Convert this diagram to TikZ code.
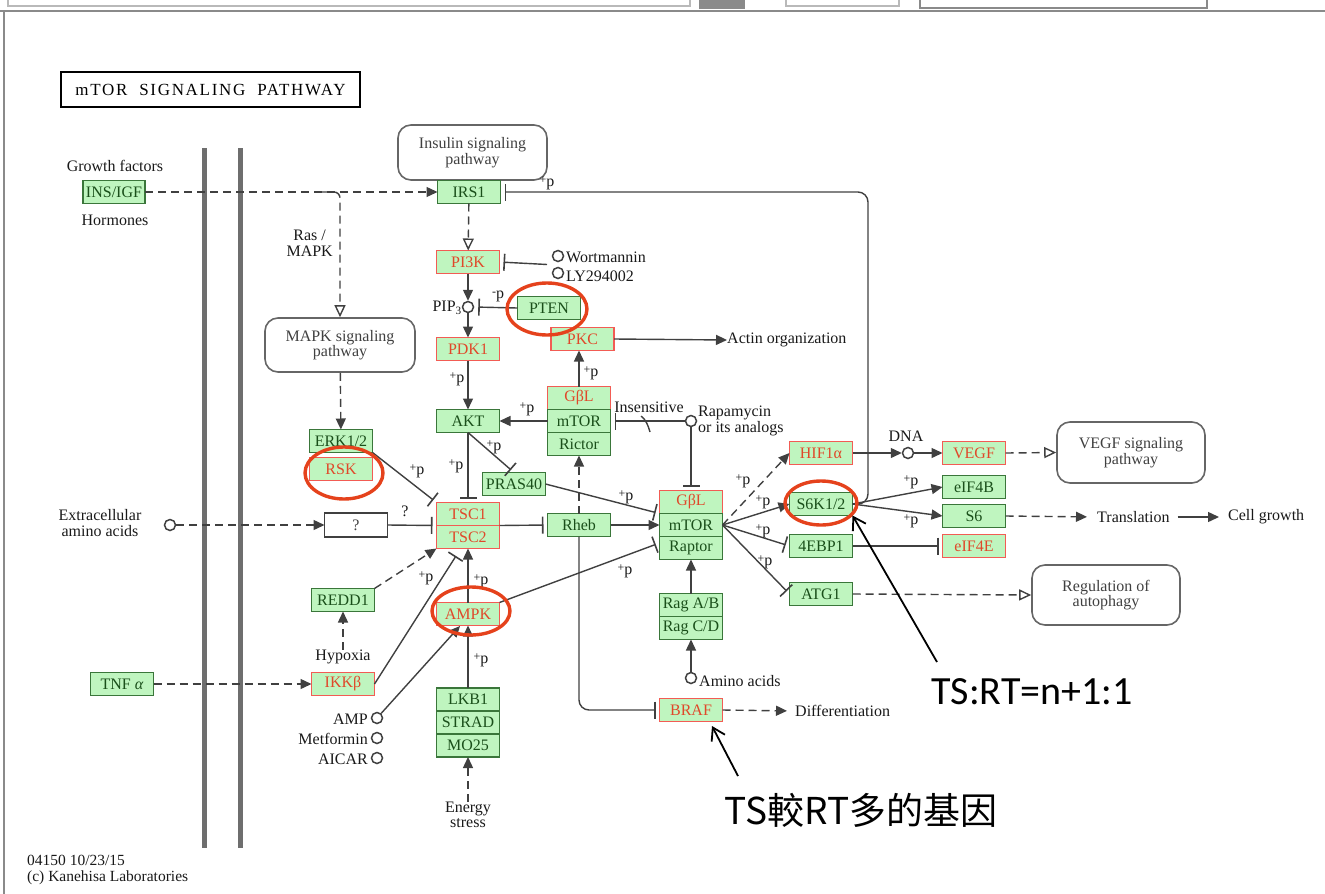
\documentclass[tikz,border=0pt]{standalone}
\usepackage{fontspec}
\setmainfont{Liberation Serif}
\newfontfamily\cjkfont{Noto Sans CJK TC}
\newfontfamily\notefont{Carlito}
\newfontfamily\titlefont[LetterSpace=10]{Liberation Serif}
\usepackage{tikz}
\usetikzlibrary{positioning, arrows.meta, shapes.geometric, calc}

\newcommand{\plusp}{{\raisebox{3pt}{\fontsize{12}{12}\selectfont+}p}}
\newcommand{\minusp}{{\raisebox{3pt}{\fontsize{12}{12}\selectfont-}p}}

\begin{document}
\begin{tikzpicture}[
    x=1pt, y=-1pt,
    font=\fontsize{16}{15.5}\selectfont,
    >={Triangle[length=11pt,width=10pt]},
]
% ── Colours ──
\definecolor{genefill}{HTML}{BFF5BF}
\definecolor{genedraw}{HTML}{3A763A}
\definecolor{genetext}{HTML}{1A4F1A}
\definecolor{hitdraw}{HTML}{F25C54}
\definecolor{hittext}{HTML}{E0482A}
\definecolor{ring}{HTML}{E5421C}
\definecolor{linec}{HTML}{404040}
\definecolor{membr}{HTML}{6E6E6E}
\definecolor{frame}{HTML}{8A8A8A}

% ── Styles ──
\tikzset{
    gene/.style={
        draw=genedraw, fill=genefill, text=genetext,
        line width=1.5pt, minimum width=63pt, minimum height=23pt,
        inner sep=0pt, outer sep=0pt,
    },
    hitgene/.style={gene, draw=hitdraw, text=hittext},
    unknown/.style={gene, draw=linec, fill=white, text=linec, minimum height=24pt},
    pathway/.style={
        draw=linec!80, line width=1.6pt, rounded corners=13pt,
        align=center, inner sep=0pt, text=linec,
    },
    cpd/.style={circle, draw=linec, line width=1.5pt, minimum size=11pt, inner sep=0pt, fill=white},
    lbl/.style={text=black!90, inner sep=0pt, align=center},
    link/.style={draw=linec, line width=1.4pt},
    act/.style={link, ->},
    inh/.style={link, -{Bar[width=17pt, line width=1.6pt]}, shorten >=4pt},
    indirect/.style={act, dash pattern=on 8pt off 5pt},
    outlink/.style={link, dash pattern=on 8pt off 5pt,
        -{Triangle[open, length=12pt, width=11pt, fill=white]}},
    hitring/.style={ellipse, draw=ring, line width=3.4pt, inner sep=0pt},
    note/.style={draw=black, line width=1.8pt, -{Straight Barb[length=12pt, width=15pt]}},
}

\useasboundingbox (0,0) rectangle (1325,894);

% ── Window frame ──
\draw[frame!60, line width=1.5pt] (8,0) |- (690,6) -- (690,0);
\fill[frame] (699,0) rectangle (745,9);
\draw[frame!60, line width=1.5pt] (786,0) |- (899,6) -- (899,0);
\draw[frame, line width=2pt] (920,0) |- (1207,8) -- (1207,0);
\draw[frame, line width=2pt] (0,11) -- (1325,11);
\draw[frame, line width=2.5pt] (4,11) -- (4,894);

% ── Membrane ──
\draw[membr, line width=5pt] (204,148) -- (204,848);
\draw[membr, line width=5pt] (240,148) -- (240,848);

% ── Title ──
\node[draw, line width=2.5pt, minimum width=299pt, minimum height=35pt,
      font=\titlefont\fontsize{17}{17}\selectfont] (title) at (210.5,89.5)
    {mTOR\ \ SIGNALING\ \ PATHWAY};

% ── Outside the cell ──
\node[lbl] (growth) at (115,166) {Growth factors};
\node[gene, minimum width=62pt] (ins) at (114,192) {INS/IGF};
\node[lbl] (horm) at (115,220) {Hormones};
\node[lbl] (eaatext) at (100,523) {Extracellular\\amino acids};
\node[cpd] (eaa) at (170,525) {};
\node[gene] (tnf) at (122,684) {TNF \textit{α}};

% ── Upstream column ──
\node[pathway, minimum width=149pt, minimum height=55pt] (insp) at (472.5,152.5) {Insulin signaling\\pathway};
\node[gene] (irs1) at (469,192) {IRS1};
\node[hitgene] (pi3k) at (468,262) {PI3K};
\node[cpd] (pip3) at (468,307) {};
\node[lbl, anchor=east] (pip3text) at (462,308) {PIP\textsubscript{3}};
\node[hitgene] (pdk1) at (468,349) {PDK1};
\node[gene] (akt) at (468,421) {AKT};
\node[hitgene] (tsc1) at (468,514) {TSC1};
\node[hitgene, below=0pt of tsc1] (tsc2) {TSC2};
\node[hitgene] (ampk) at (468,614) {AMPK};
\node[gene] (lkb) at (468,699.5) {LKB1};
\node[gene, below=0pt of lkb] (strad) {STRAD};
\node[gene, below=0pt of strad] (mo25) {MO25};
\node[lbl] (energy) at (468,815) {Energy\\stress};

\node[cpd] (wort) at (558,256) {};
\node[lbl, anchor=west] (worttext) at (566,257) {Wortmannin};
\node[cpd] (ly) at (558,273) {};
\node[lbl, anchor=west] (lytext) at (566,276) {LY294002};
\coordinate (drug) at (547,264.5);
\node[gene] (pten) at (549,308) {PTEN};
\node[hitgene] (pkc) at (582.5,339) {PKC};
\node[lbl, anchor=west] (actin) at (727,340) {Actin organization};

% ── mTORC2 ──
\node[hitgene] (gbl2) at (579,398) {GβL};
\node[gene, below=0pt of gbl2] (mtor2) {mTOR};
\node[gene, below=0pt of mtor2] (rictor) {Rictor};
\node[gene] (pras) at (514,484) {PRAS40};
\node[gene] (rheb) at (579,525) {Rheb};

% ── MAPK branch ──
\node[lbl, anchor=east] (ras) at (333,243) {Ras /\\MAPK};
\coordinate (rasfork) at (322,192);
\node[pathway, minimum width=150pt, minimum height=54pt] (mapk) at (340,345) {MAPK signaling\\pathway};
\node[gene] (erk) at (341,441) {ERK1/2};
\node[hitgene] (rsk) at (341,469) {RSK};
\node[unknown] (unk) at (356,525) {?};
\node[gene] (redd) at (343,600) {REDD1};
\node[lbl] (hypoxia) at (343,657) {Hypoxia};
\node[hitgene] (ikk) at (343,684) {IKKβ};
\coordinate (ikkbar) at (456,556);
\node[cpd] (amp) at (377,718) {};
\node[lbl, anchor=east] (amptext) at (368,719) {AMP};
\node[cpd] (metf) at (377,738) {};
\node[lbl, anchor=east] (metftext) at (368,739) {Metformin};
\node[cpd] (aicar) at (377,758) {};
\node[lbl, anchor=east] (aicartext) at (368,759) {AICAR};
\coordinate (ampin) at (460,626);

% ── mTORC1 ──
\node[hitgene] (gbl1) at (691,502) {GβL};
\node[gene, below=0pt of gbl1] (mtor1) {mTOR};
\node[gene, below=0pt of mtor1] (raptor) {Raptor};
\node[cpd] (rapa) at (691,421) {};
\node[lbl, anchor=west, align=left] (rapatext) at (698,421) {Rapamycin\\or its analogs};
\node[lbl] (insens) at (649,407) {Insensitive};
\node[gene] (raga) at (691,605) {Rag A/B};
\node[gene, below=0pt of raga] (ragc) {Rag C/D};
\node[cpd] (amino) at (691,678) {};
\node[lbl, anchor=west] (aminotext) at (699,681) {Amino acids};
\node[hitgene] (braf) at (691,710) {BRAF};
\node[lbl, anchor=west] (diff) at (795,711) {Differentiation};

% ── Downstream ──
\node[hitgene] (hif) at (821,453) {HIF1α};
\node[gene] (s6k) at (821,504) {S6K1/2};
\node[gene] (ebp) at (821,546) {4EBP1};
\node[gene] (atg) at (821,594) {ATG1};
\node[cpd] (dna) at (908,453) {};
\node[lbl] (dnatext) at (906,436) {DNA};
\node[hitgene] (vegf) at (974,453) {VEGF};
\node[gene] (eif4b) at (974,487) {eIF4B};
\node[gene] (s6) at (974,516) {S6};
\node[hitgene] (eif4e) at (974,546) {eIF4E};
\node[pathway, minimum width=148pt, minimum height=61pt] (vegfp) at (1131,452.5) {VEGF signaling\\pathway};
\node[pathway, minimum width=148pt, minimum height=60pt] (autoph) at (1106,595) {Regulation of\\autophagy};
\node[lbl, anchor=west] (trans) at (1097,517) {Translation};
\node[lbl, anchor=west] (cellg) at (1228,517) {Cell growth};
\coordinate (fb) at (868,192);

% ── Footer ──
\node[lbl, anchor=west, align=left, font=\fontsize{15.5}{16}\selectfont] (foot) at (27,870)
    {04150 10/23/15\\(c) Kanehisa Laboratories};

% ── Connectors: entry ──
\draw[indirect] (ins) -- (irs1);
\draw[outlink, rounded corners=6pt] (rasfork) -| (mapk.north);
\draw[indirect] (mapk) -- (erk);
\draw[indirect] (eaa) -- (unk);
\draw[indirect] (tnf) -- (ikk);
\draw[outlink] (irs1) -- (pi3k);

% ── Connectors: PI3K / AKT axis ──
\draw[act] (pi3k) -- (pip3);
\draw[act] (pip3) -- (pdk1);
\draw[inh] (drug) -- (pi3k.east);
\draw[inh] (pten.west) -- (pip3.east);
\node[lbl] at (498,296) {\minusp};
\draw[act] (pdk1) -- (akt);
\node[lbl] at (457,379) {\plusp};
\draw[act] (mtor2.west) -- (akt.east);
\node[lbl] at (527,409) {\plusp};
\draw[act] (gbl2.north) -- (gbl2.north |- pkc.south);
\node[lbl] at (591,373) {\plusp};
\draw[act] (pkc.east) -- (actin.west);
\draw[inh] (akt.south) -- (tsc1.north);
\node[lbl] at (456,466) {\plusp};
\draw[inh] (akt.south) -- (pras.north);
\node[lbl] at (494,447) {\plusp};
\draw[inh] (pras.east) -- (gbl1.south west);
\node[lbl] at (626,497) {\plusp};

% ── Connectors: TSC inputs ──
\draw[inh] (erk.south east) -- (tsc1.north west);
\node[lbl] at (417,471) {\plusp};
\draw[inh] (unk.east) -- (tsc1.south west);
\node[lbl] at (405,511) {?};
\draw[indirect] (hypoxia) -- (redd);
\draw[indirect] (redd.north east) -- (tsc2.south west);
\draw[inh, shorten >=0pt] (ikk.east) -- (ikkbar);
\node[lbl] at (426,578) {\plusp};
\draw[act] (ampk.north) -- (tsc2.south);
\node[lbl] at (481,581) {\plusp};
\draw[act] (lkb.north) -- (ampk.south);
\node[lbl] at (481,660) {\plusp};
\draw[act] (amp) -- (ampin);
\draw[indirect] (energy.north) -- (mo25.south);
\draw[inh] (ampk.north east) -- ($(raptor.west)+(0,-5)$);
\node[lbl] at (625,571) {\plusp};

% ── Connectors: Rheb / mTORC1 ──
\draw[inh] (tsc1.south east) -- (rheb.west);
\draw[act] (rheb.east) -- (mtor1.west);
\draw[indirect] (rheb.north) -- (rictor.south);
\draw[inh, rounded corners=10pt] (rheb.south) |- (braf.west);
\draw[inh] (rapa) -- (mtor2.east);
\draw[link] (641,416) .. controls (646,420) and (648,425) .. (650,432);
\draw[inh] (rapa) -- (gbl1.north);
\draw[act] (raga.north) -- (raptor.south);
\draw[act] (amino) -- (ragc.south);
\draw[indirect, shorten >=8pt] (braf.east) -- (diff.west);

% ── Connectors: mTORC1 outputs ──
\draw[indirect] (mtor1.east) -- (hif.west);
\node[lbl] at (743,481) {\plusp};
\draw[act] (mtor1.east) -- (s6k.west);
\node[lbl] at (763,502) {\plusp};
\draw[inh] (mtor1.east) -- (ebp.west);
\node[lbl] at (763,531) {\plusp};
\draw[inh] (mtor1.east) -- (atg.west);
\node[lbl] at (765,562) {\plusp};
\draw[act] (hif.east) -- (dna);
\draw[act] (dna) -- (vegf.west);
\draw[outlink] (vegf.east) -- (vegfp.west);
\draw[act] (s6k.east) -- (eif4b.west);
\node[lbl] at (911,482) {\plusp};
\draw[act] (s6k.east) -- (s6.west);
\node[lbl] at (911,521) {\plusp};
\draw[indirect, shorten >=10pt] (s6.east) -- (trans.west);
\draw[act, shorten >=9pt, shorten <=8pt] (trans.east) -- (cellg.west);
\draw[inh] (ebp.east) -- (eif4e.west);
\draw[outlink] (atg.east) -- (autoph.west);
\draw[inh, rounded corners=10pt] (s6k.east) -| (fb) -- (irs1.east);
\node[lbl] at (547,183) {\plusp};

% ── Highlight rings ──
\node[hitring, minimum width=78pt, minimum height=52pt] (rskring) at (344,473) {};
\node[hitring, minimum width=80pt, minimum height=52pt] (ptenring) at (547,309) {};
\node[hitring, minimum width=78pt, minimum height=48pt] (ampkring) at (471,611) {};
\node[hitring, minimum width=72pt, minimum height=44pt] (s6kring) at (821,503) {};

% ── Notes ──
\node[inner sep=0pt, font=\notefont\fontsize{40}{40}\selectfont] (ratio) at (1032,692) {TS:RT=n+1:1};
\coordinate (ratiotail) at (937,662);
\draw[note] (ratiotail) -- (s6k.south east);
\node[inner sep=0pt, font=\cjkfont\fontsize{37}{37}\selectfont] (more) at (861,810) {TS較RT多的基因};
\coordinate (moretail) at (738,776);
\coordinate (brafmark) at (712,726);
\draw[note] (moretail) -- (brafmark);

\end{tikzpicture}
\end{document}
